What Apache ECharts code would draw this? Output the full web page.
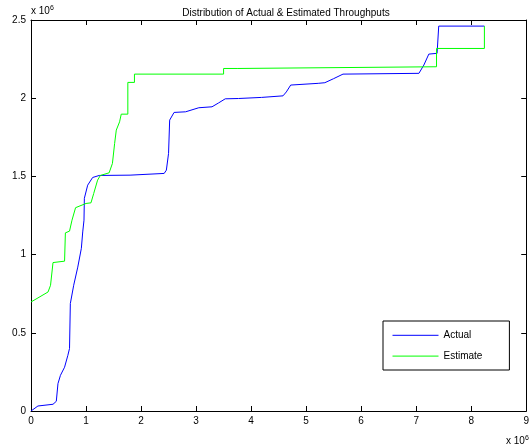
<!DOCTYPE html>
<html>
<head>
<meta charset="utf-8">
<script src="https://cdn.jsdelivr.net/npm/echarts@6/dist/echarts.min.js"></script>
<style>html,body{margin:0;padding:0;background:#fff;}#c{width:532px;height:446px;}</style>
</head>
<body>
<div id="c"></div>
<script>
// values in units of 10^6
const actualX = [0, 0.126, 0.40, 0.46, 0.49, 0.535, 0.61, 0.67, 0.70, 0.715, 0.776, 0.85, 0.915, 0.94, 0.963, 0.97, 1.03, 1.12, 1.24, 1.8, 2.42, 2.46, 2.50, 2.52, 2.60, 2.81, 3.05, 3.29, 3.41, 3.53, 3.77, 4.19, 4.58, 4.64, 4.72, 5.22, 5.34, 5.50, 5.67, 7.05, 7.14, 7.23, 7.38, 7.41, 8.24];
const actualY = [0, 0.032, 0.043, 0.062, 0.175, 0.228, 0.28, 0.356, 0.40, 0.687, 0.804, 0.92, 1.04, 1.145, 1.22, 1.36, 1.444, 1.493, 1.506, 1.508, 1.519, 1.54, 1.647, 1.86, 1.909, 1.913, 1.939, 1.945, 1.97, 1.996, 1.998, 2.005, 2.015, 2.04, 2.084, 2.095, 2.099, 2.125, 2.154, 2.159, 2.212, 2.282, 2.287, 2.461, 2.461];
const estimateX = [0, 0.31, 0.355, 0.40, 0.61, 0.625, 0.70, 0.745, 0.76, 0.81, 1.0, 1.09, 1.14, 1.21, 1.26, 1.42, 1.48, 1.52, 1.55, 1.61, 1.64, 1.76, 1.76, 1.88, 1.88, 3.50, 3.50, 3.76, 3.76, 7.37, 7.37, 8.24, 8.24];
const estimateY = [0.697, 0.761, 0.804, 0.949, 0.958, 1.139, 1.15, 1.22, 1.231, 1.30, 1.327, 1.331, 1.391, 1.476, 1.506, 1.523, 1.583, 1.711, 1.796, 1.849, 1.898, 1.898, 2.101, 2.101, 2.154, 2.154, 2.19, 2.19, 2.201, 2.201, 2.318, 2.318, 2.461];
const xTicks = [0, 1, 2, 3, 4, 5, 6, 7, 8, 9];
const yTicks = [0, 0.5, 1, 1.5, 2, 2.5];
const seriesNames = ['Actual', 'Estimate'];
const titleText = 'Distribution of Actual & Estimated Throughputs';

const pair = (xs, ys) => xs.map((x, i) => [x, ys[i]]);
const FONT = 'Liberation Sans, Arial, sans-serif';
const chart = echarts.init(document.getElementById('c'), null, {renderer: 'canvas'});
const axBase = {
  type: 'value',
  axisLine: {show: true, onZero: false, lineStyle: {color: '#000', width: 1}},
  axisTick: {show: true, inside: true, length: 5, lineStyle: {color: '#000'}},
  splitLine: {show: false}
};
const expRich = {
  a: {fontFamily: FONT, fontSize: 10, fill: '#000'},
  b: {fontFamily: FONT, fontSize: 7, fill: '#000', verticalAlign: 'top', padding: [0, 0, 6, 0]}
};
chart.setOption({
  animation: false,
  backgroundColor: '#fff',
  title: {text: titleText, left: 281, textAlign: 'center', top: 3,
    textStyle: {fontFamily: FONT, fontSize: 10, fontWeight: 'normal', color: '#000'}},
  grid: {left: 31, top: 20, right: 2, bottom: 35, containLabel: false},
  xAxis: [
    Object.assign({}, axBase, {position: 'bottom', min: xTicks[0], max: xTicks[xTicks.length - 1], interval: 1,
      axisLabel: {margin: 5, fontFamily: FONT, fontSize: 10, color: '#000'}}),
    Object.assign({}, axBase, {position: 'top', min: xTicks[0], max: xTicks[xTicks.length - 1], interval: 1,
      axisLabel: {show: false}})
  ],
  yAxis: [
    Object.assign({}, axBase, {position: 'left', min: yTicks[0], max: yTicks[yTicks.length - 1], interval: 0.5,
      axisLabel: {margin: 5, fontFamily: FONT, fontSize: 10, color: '#000'}}),
    Object.assign({}, axBase, {position: 'right', min: yTicks[0], max: yTicks[yTicks.length - 1], interval: 0.5,
      axisLabel: {show: false}})
  ],
  legend: {
    orient: 'vertical', left: 383, top: 321,
    data: seriesNames,
    itemWidth: 46, itemHeight: 12, itemGap: 10.8,
    padding: [9.3, 27, 8.9, 9],
    itemStyle: {opacity: 0},
    lineStyle: {width: 1},
    borderColor: '#000', borderWidth: 1, backgroundColor: '#fff',
    textStyle: {fontFamily: FONT, fontSize: 10, color: '#000'}
  },
  graphic: [
    {type: 'text', left: 31, top: 5, style: {text: '{a|x 10}{b|6}', rich: expRich}},
    {type: 'text', left: 506, top: 435, style: {text: '{a|x 10}{b|6}', rich: expRich}}
  ],
  series: [
    {name: seriesNames[0], type: 'line', data: pair(actualX, actualY), symbol: 'none',
      lineStyle: {color: '#0000ff', width: 1}, itemStyle: {color: '#0000ff'}, z: 2},
    {name: seriesNames[1], type: 'line', data: pair(estimateX, estimateY), symbol: 'none',
      lineStyle: {color: '#00ff00', width: 1}, itemStyle: {color: '#00ff00'}, z: 3}
  ]
});
</script>
</body>
</html>
